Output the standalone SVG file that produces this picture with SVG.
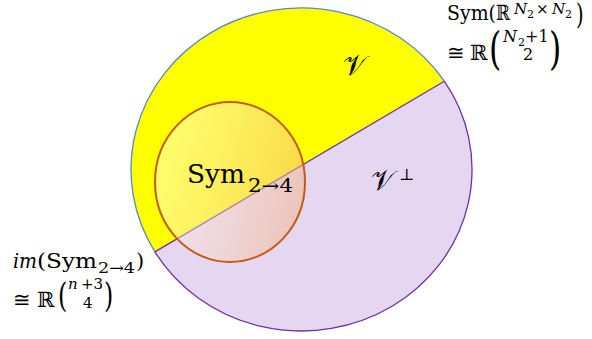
<svg xmlns="http://www.w3.org/2000/svg" width="592" height="339" viewBox="0 0 592 339">
<defs>
<linearGradient id="symgrad" x1="0" y1="0.35" x2="1" y2="0.65">
<stop offset="0" stop-color="#FFFFFF" stop-opacity="0.42"/>
<stop offset="1" stop-color="#F4B183" stop-opacity="0.52"/>
</linearGradient>
<style>
.t{font-family:"DejaVu Serif","Liberation Serif",serif;fill:#000}
.it{font-style:italic}
.edge{fill:none;stroke-width:1.3}
</style>
</defs>
<rect width="592" height="339" fill="#FFFFFF"/>
<g id="space">
<ellipse cx="301.5" cy="169.5" rx="170.5" ry="161.5" fill="#E5D7F1"/>
</g>
<g id="V">
<path d="M444.3,81.2 A170.5,161.5 0 0 0 154.9,251.9 Z" fill="#FFFF00"/>
</g>
<g id="outline">
<path class="edge" d="M444.3,81.2 A170.5,161.5 0 0 0 154.9,251.9" stroke="#5B87CC"/>
<path class="edge" d="M444.3,81.2 A170.5,161.5 0 1 1 154.9,251.9" stroke="#7030A0"/>
<line class="edge" x1="444.3" y1="81.2" x2="154.9" y2="251.9" stroke="#7030A0"/>
</g>
<g id="Sym24">
<ellipse cx="230" cy="182" rx="75" ry="80" fill="url(#symgrad)" stroke="#C55A11" stroke-width="2"/>
<text class="t" x="187" y="183" font-size="26" textLength="58" lengthAdjust="spacingAndGlyphs">Sym</text>
<text class="t" x="248" y="192" font-size="18" textLength="45" lengthAdjust="spacingAndGlyphs">2→4</text>
</g>
<g id="V-label">
<text class="t" x="343" y="75" font-size="28">𝒱</text>
</g>
<g id="Vperp-label">
<text class="t" x="371" y="190" font-size="28">𝒱</text>
<text class="t" x="399" y="180" font-size="16">⊥</text>
</g>
<g id="label-top-right">
<text class="t" x="447" y="20" font-size="21" textLength="49" lengthAdjust="spacingAndGlyphs">Sym(</text>
<text class="t" x="496" y="20" font-size="21" textLength="14" lengthAdjust="spacingAndGlyphs">ℝ</text>
<text class="t it" x="514" y="14" font-size="15">N</text>
<text class="t" x="527" y="18" font-size="11">2</text>
<text class="t" x="536" y="14" font-size="15">×</text>
<text class="t it" x="552" y="14" font-size="15">N</text>
<text class="t" x="565" y="18" font-size="11">2</text>
<text class="t" transform="translate(576,24) scale(0.7,1)" font-size="28">)</text>
<text class="t" x="447" y="60" font-size="21">≅</text>
<text class="t" x="470" y="60" font-size="21">ℝ</text>
<text class="t" transform="translate(489,64) scale(0.7,1)" font-size="45">(</text>
<text class="t it" x="503" y="42" font-size="16">N</text>
<text class="t" x="518" y="46" font-size="11">2</text>
<text class="t" x="525" y="42" font-size="16">+1</text>
<text class="t" x="523" y="60" font-size="16">2</text>
<text class="t" transform="translate(549,64) scale(0.7,1)" font-size="45">)</text>
</g>
<g id="label-bottom-left">
<text class="t it" x="13" y="268" font-size="21" textLength="24" lengthAdjust="spacingAndGlyphs">im</text>
<text class="t" x="37" y="268" font-size="21" textLength="60" lengthAdjust="spacingAndGlyphs">(Sym</text>
<text class="t" x="98" y="273" font-size="15" textLength="37" lengthAdjust="spacingAndGlyphs">2→4</text>
<text class="t" x="136" y="268" font-size="21">)</text>
<text class="t" x="13" y="307" font-size="21">≅</text>
<text class="t" x="37" y="307" font-size="21">ℝ</text>
<text class="t" transform="translate(58,307) scale(0.7,1)" font-size="34">(</text>
<text class="t it" x="68" y="289" font-size="15">n</text>
<text class="t" x="81" y="289" font-size="15">+3</text>
<text class="t" x="83" y="308" font-size="15">4</text>
<text class="t" transform="translate(104,307) scale(0.7,1)" font-size="34">)</text>
</g>
</svg>
